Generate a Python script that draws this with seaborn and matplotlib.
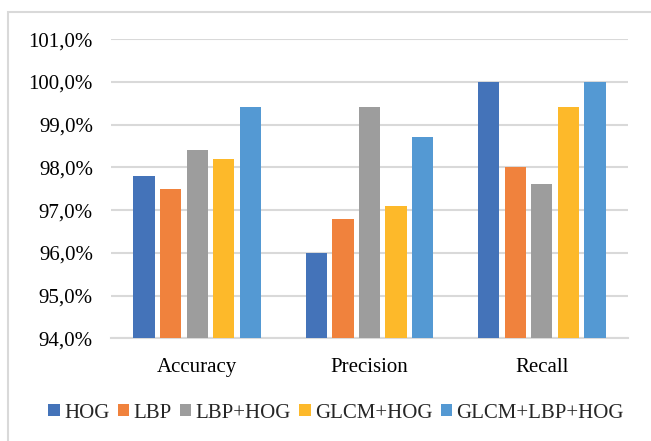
import pandas as pd
import seaborn as sns
import matplotlib.pyplot as plt
from matplotlib.ticker import FuncFormatter, MultipleLocator
from matplotlib.patches import Rectangle

metrics = ['Accuracy', 'Precision', 'Recall']
methods = ['HOG', 'LBP', 'LBP+HOG', 'GLCM+HOG', 'GLCM+LBP+HOG']
hog = [97.8, 96.0, 100.0]
lbp = [97.5, 96.8, 98.0]
lbp_hog = [98.4, 99.4, 97.6]
glcm_hog = [98.2, 97.1, 99.4]
glcm_lbp_hog = [99.4, 98.7, 100.0]
colors = ['#4473B9', '#F0823D', '#9D9D9D', '#FDB92A', '#5499D3']

series = [hog, lbp, lbp_hog, glcm_hog, glcm_lbp_hog]
rows = []
for name, vals in zip(methods, series):
    for m, v in zip(metrics, vals):
        rows.append({'metric': m, 'method': name, 'value': v})
df = pd.DataFrame(rows)

sns.set_style('white')
plt.rcParams['font.family'] = ['Liberation Serif', 'DejaVu Serif']

fig = plt.figure(figsize=(6.51, 4.41), dpi=100)
ax = fig.add_axes([0.1705, 0.2329, 0.7942, 0.6784])

sns.barplot(data=df, x='metric', y='value', hue='method', hue_order=methods,
            palette=colors, saturation=1, width=0.77, gap=0.2, ax=ax,
            linewidth=0, zorder=3)

ax.set_ylim(94, 101)
ax.yaxis.set_major_locator(MultipleLocator(1))
ax.yaxis.set_major_formatter(FuncFormatter(lambda v, p: f'{v:.1f}%'.replace('.', ',')))
ax.grid(axis='y', color='#d9d9d9', linewidth=1.5, zorder=0)
ax.set_axisbelow(True)
for side in ['top', 'right', 'left']:
    ax.spines[side].set_visible(False)
ax.spines['bottom'].set_color('#d9d9d9')
ax.spines['bottom'].set_linewidth(1.5)
ax.set_xlabel('')
ax.set_ylabel('')
ax.tick_params(axis='y', length=0, pad=13, labelsize=15, colors='black')
ax.tick_params(axis='x', length=0, pad=14, labelsize=15, colors='black')

handles, labels = ax.get_legend_handles_labels()
ax.get_legend().remove()
fig.legend(handles, labels, loc='center', bbox_to_anchor=(336 / 651, 1 - 413 / 441),
           ncol=5, frameon=False, fontsize=15, handlelength=0.55, handleheight=0.55,
           handletextpad=0.2, columnspacing=0.4)

# outer chart frame
fig.patches.append(Rectangle((8 / 651, -0.1), 1.1, 1 - 12 / 441 + 0.1,
                             transform=fig.transFigure, fill=False,
                             edgecolor='#d9d9d9', linewidth=1.5))

fig.savefig('out.png', dpi=100)
